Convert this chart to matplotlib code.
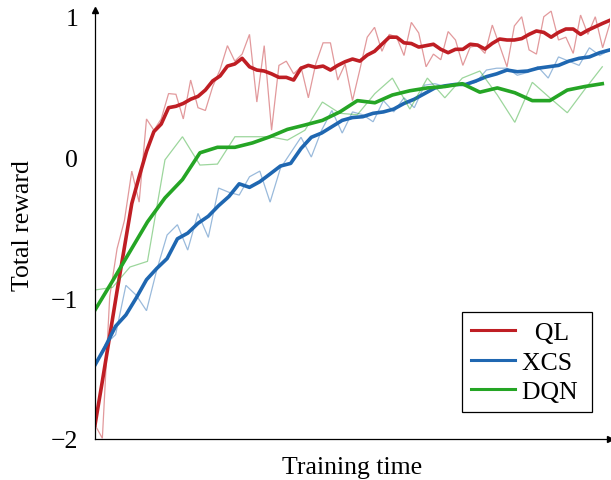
import numpy as np
import matplotlib
matplotlib.use("Agg")
import matplotlib.pyplot as plt

# ---- data -------------------------------------------------------------
ql_raw = [-1.90, -1.995, -0.99, -0.65, -0.45, -0.10, -0.32, 0.27, 0.19, 0.27,
          0.45, 0.445, 0.27, 0.546, 0.35, 0.33, 0.50, 0.62, 0.79, 0.68,
          0.73, 0.87, 0.39, 0.79, 0.19, 0.65, 0.68, 0.59, 0.64, 0.42,
          0.66, 0.81, 0.81, 0.546, 0.66, 0.40, 0.62, 0.85, 0.92, 0.75,
          0.87, 0.85, 0.72, 0.955, 0.88, 0.64, 0.73, 0.69, 0.89, 0.83,
          0.65, 0.78, 0.79, 0.735, 0.936, 0.79, 0.64, 0.93, 0.995, 0.76,
          0.73, 0.995, 1.035, 0.83, 0.85, 0.735, 1.007, 0.87, 0.995, 0.775,
          0.95]
ql_smooth = [-1.90, -1.59, -1.27, -0.95, -0.64, -0.33, -0.14, 0.04, 0.18, 0.234,
             0.35, 0.36, 0.38, 0.41, 0.43, 0.475, 0.54, 0.575, 0.645, 0.66,
             0.70, 0.64, 0.617, 0.61, 0.59, 0.565, 0.565, 0.546, 0.63, 0.65,
             0.636, 0.645, 0.617, 0.65, 0.676, 0.695, 0.68, 0.723, 0.75, 0.80,
             0.85, 0.85, 0.81, 0.805, 0.78, 0.79, 0.80, 0.764, 0.74, 0.764,
             0.764, 0.80, 0.794, 0.766, 0.806, 0.837, 0.83, 0.83, 0.84, 0.87,
             0.894, 0.884, 0.85, 0.884, 0.908, 0.908, 0.87, 0.90, 0.924, 0.948,
             0.97]
xcs_raw = [-1.475, -1.33, -1.26, -0.91, -0.98, -1.09, -0.80, -0.553, -0.48, -0.66,
           -0.40, -0.57, -0.22, -0.25, -0.27, -0.14, -0.10, -0.32, -0.08, 0.03,
           0.14, 0.0, 0.19, 0.33, 0.17, 0.32, 0.30, 0.25, 0.40, 0.32,
           0.42, 0.35, 0.51, 0.52, 0.50, 0.52, 0.51, 0.53, 0.617, 0.63,
           0.63, 0.58, 0.60, 0.64, 0.56, 0.71, 0.68, 0.65, 0.775, 0.72,
           0.76]
xcs_smooth = [-1.475, -1.345, -1.20, -1.12, -1.0, -0.87, -0.79, -0.72, -0.58, -0.54,
              -0.47, -0.42, -0.345, -0.28, -0.19, -0.215, -0.175, -0.12, -0.064, -0.045,
              0.06, 0.14, 0.17, 0.215, 0.26, 0.28, 0.286, 0.31, 0.32, 0.34,
              0.38, 0.41, 0.45, 0.49, 0.505, 0.515, 0.515, 0.54, 0.57, 0.59,
              0.617, 0.605, 0.61, 0.63, 0.64, 0.65, 0.68, 0.70, 0.71, 0.74,
              0.76]
dqn_raw = [-0.943, -0.925, -0.78, -0.74, -0.02, 0.144, -0.057, -0.05, 0.144, 0.144,
           0.144, 0.12, 0.19, 0.39, 0.31, 0.30, 0.45, 0.56, 0.34, 0.56,
           0.42, 0.56, 0.61, 0.44, 0.246, 0.53, 0.42, 0.314, 0.48, 0.64]
dqn_smooth = [-1.085, -0.88, -0.67, -0.46, -0.29, -0.16, 0.03, 0.069, 0.069, 0.10,
              0.144, 0.196, 0.227, 0.26, 0.32, 0.40, 0.385, 0.44, 0.47, 0.49,
              0.50, 0.52, 0.46, 0.49, 0.456, 0.40, 0.40, 0.475, 0.50, 0.52]

# training time (normalised) of each logged point
t_ql = np.linspace(0.0, 1.0, len(ql_raw))
t_xcs = np.linspace(0.0, 1.0, len(xcs_raw))
t_dqn = np.linspace(0.0, 0.985, len(dqn_raw))

labels = ["QL", "XCS", "DQN"]
colors = ["#bf1e24", "#1f67b1", "#25a525"]
yticks = [-2, -1, 0, 1]
ytick_labels = ["\u22122", "\u22121", "0", "1"]

# ---- figure -----------------------------------------------------------
plt.rcParams["font.family"] = ["Liberation Serif", "DejaVu Serif"]
FS = 18.5

fig = plt.figure(figsize=(6.11, 4.81), dpi=100)
W, H = 611.0, 481.0
ax = fig.add_axes([95 / W, (H - 440) / H, 515 / W, (440 - 11.4) / H])

series = [(t_ql, ql_raw, ql_smooth), (t_xcs, xcs_raw, xcs_smooth), (t_dqn, dqn_raw, dqn_smooth)]
handles = []
for (t, raw, sm), lab, c in zip(series, labels, colors):
    ax.plot(t, raw, color=c, lw=0.9, alpha=0.45, solid_joinstyle="miter")
    h, = ax.plot(t, sm, color=c, lw=2.6, solid_joinstyle="round", label=lab)
    handles.append(h)

ax.set_xlim(0, 1.0)
ax.set_ylim(-2, 1.04)
ax.set_xticks([])
ax.set_yticks(yticks)
ax.set_yticklabels(ytick_labels, fontsize=FS)
ax.tick_params(axis="y", length=0, pad=12)

for s in ["top", "right"]:
    ax.spines[s].set_visible(False)
for s in ["left", "bottom"]:
    ax.spines[s].set_linewidth(0.9)
    ax.spines[s].set_color("black")

# arrow heads on axes
ax.plot(1.0, 0, marker=">", color="black", markersize=5, transform=ax.transAxes, clip_on=False)
ax.plot(0, 1.0, marker="^", color="black", markersize=5, transform=ax.transAxes, clip_on=False)

ax.set_xlabel("Training time", fontsize=FS, labelpad=12)
ax.set_ylabel("Total reward", fontsize=FS, labelpad=12)

disp_labels = ["\u2002QL\u2009", "XCS\u2009", "DQN\u2009"]
leg = ax.legend(handles, disp_labels, loc="lower right", bbox_to_anchor=(0.965, 0.063),
                borderaxespad=0, fontsize=FS, frameon=True, fancybox=False,
                edgecolor="black", framealpha=1, handlelength=1.7, handletextpad=0.3,
                labelspacing=0.25, borderpad=0.35)
leg.get_frame().set_linewidth(0.9)
for line in leg.get_lines():
    line.set_linewidth(2.2)

fig.savefig("out.png", dpi=100)
